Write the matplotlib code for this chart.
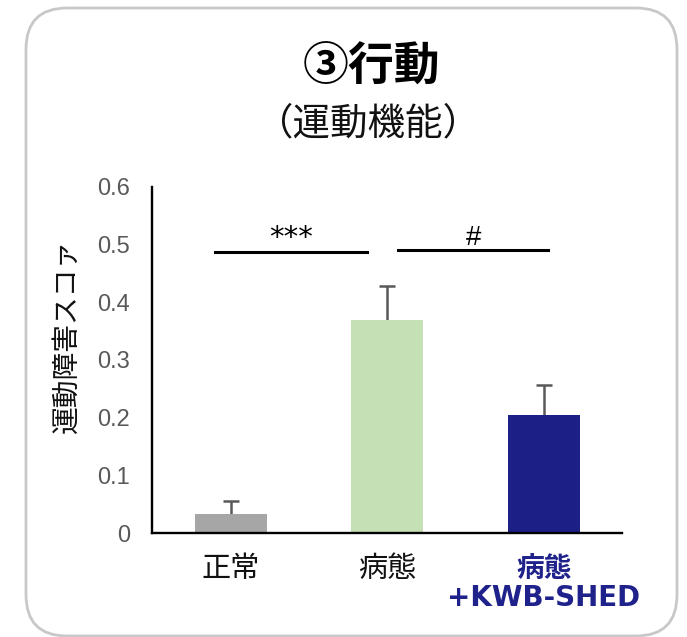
import matplotlib
matplotlib.use("Agg")
import matplotlib.pyplot as plt
import numpy as np
from matplotlib.patches import FancyBboxPatch

plt.rcParams['font.family'] = ['Liberation Sans', 'Noto Sans CJK JP', 'DejaVu Sans']

categories = ["正常", "病態", "病態\n+KWB-SHED"]
values = [0.033, 0.370, 0.205]
errors = [0.023, 0.058, 0.052]
bar_colors = ["#a6a6a6", "#c5e0b4", "#1c1f86"]
label_colors = ["#111111", "#111111", "#1f228a"]
label_weights = ["normal", "normal", "bold"]
yticks = [0, 0.1, 0.2, 0.3, 0.4, 0.5, 0.6]
yticklabels = ["0", "0.1", "0.2", "0.3", "0.4", "0.5", "0.6"]
sig_pairs = [(-0.1, 0.87, 0.487, "***"), (1.07, 2.03, 0.49, "#")]

W, H = 687, 637
fig = plt.figure(figsize=(W / 100, H / 100), dpi=100)

# rounded border
border = FancyBboxPatch((26 / W, 1 / H), (677 - 26) / W, (629 - 1) / H,
                        boxstyle="round,pad=0,rounding_size=0.06",
                        transform=fig.transFigure, fill=False,
                        edgecolor="#c8c8c8", linewidth=2.0, mutation_aspect=W / H)
fig.patches.append(border)

fig.text(371 / W, 1 - 67 / H, "③行動", ha="center", va="center",
         fontsize=33, fontweight="bold", family=['Noto Sans CJK JP', 'DejaVu Sans'])
fig.text(368 / W, 1 - 124 / H, "（運動機能）", ha="center", va="center",
         fontsize=27, family=['Noto Sans CJK JP', 'DejaVu Sans'], color="#111111")

ax = fig.add_axes([152 / W, (H - 533) / H, (622 - 152) / W, (533 - 187) / H])
x = np.arange(len(categories))
vals = np.array(values)
errs = np.array(errors)
ax.bar(x, vals, width=0.46, color=bar_colors, zorder=2)
ax.errorbar(x, vals + errs / 2, yerr=errs / 2, fmt="none",
            ecolor="#595959", elinewidth=1.8, capsize=0, zorder=1)
ax.plot(x, vals + errs, linestyle="none", marker="_", markersize=12,
        markeredgewidth=1.8, color="#595959", zorder=1)

ax.set_xlim(-0.505, 2.5)
ax.set_ylim(0, 0.6)
ax.set_yticks(yticks)
ax.set_yticklabels(yticklabels, fontsize=17, color="#595959")
ax.set_xticks(x)
ax.set_xticklabels(categories, fontsize=21, linespacing=1.05)
for lab, c, w in zip(ax.get_xticklabels(), label_colors, label_weights):
    lab.set_color(c)
    lab.set_fontweight(w)
ax.get_xticklabels()[2].set_family(['DejaVu Sans', 'Noto Sans CJK JP'])
ax.get_xticklabels()[2].set_fontsize(20)
ax.tick_params(axis="y", length=0, pad=16)
ax.tick_params(axis="x", length=0, pad=16)
for s in ["top", "right"]:
    ax.spines[s].set_visible(False)
for s in ["left", "bottom"]:
    ax.spines[s].set_linewidth(1.7)
    ax.spines[s].set_color("black")

ax.set_ylabel("運動障害スコァ", fontsize=20, family=['Noto Sans CJK JP', 'DejaVu Sans'],
              color="#111111")
ax.yaxis.set_label_coords(-0.15, 0.57)

for x0, x1, y, txt in sig_pairs:
    ax.plot([x0, x1], [y, y], color="black", linewidth=2.2, clip_on=False)
    if txt == "***":
        ax.text((x0 + x1) / 2, y + 0.024, txt, ha="center", va="center",
                fontsize=21, color="black", family=['DejaVu Sans'])
    else:
        ax.text((x0 + x1) / 2, y + 0.022, txt, ha="center", va="center",
                fontsize=20, color="black")

fig.savefig("out.png", dpi=100)
